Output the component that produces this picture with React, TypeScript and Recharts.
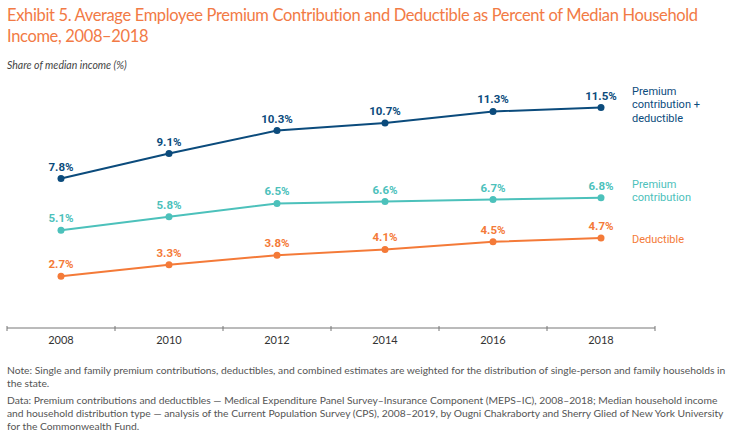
import { LineChart, Line, XAxis, YAxis, LabelList } from "recharts";

const years = ["2008", "2010", "2012", "2014", "2016", "2018"];
const combined = [7.8, 9.1, 10.3, 10.7, 11.3, 11.5];
const premium = [5.1, 5.8, 6.5, 6.6, 6.7, 6.8];
const deductible = [2.7, 3.3, 3.8, 4.1, 4.5, 4.7];

const NAVY = "#0b4b7c";
const TEAL = "#4cc1bb";
const ORANGE = "#f47a38";
const TITLE = "#f27a45";

const data = years.map((year, i) => ({
  year,
  combined: combined[i],
  premium: premium[i],
  deductible: deductible[i],
}));

const HALF_BAND = 54;
const LABEL_FONT = "Roboto, 'Noto Sans', sans-serif";

// draws tick marks on the band edges rather than under the points
// eslint-disable-next-line @typescript-eslint/no-explicit-any
const YearTick = ({ x, y, payload, index }: any) => (
  <g>
    <line x1={x - HALF_BAND} x2={x - HALF_BAND} y1={y - 2} y2={y + 3} stroke="#777" />
    {index === years.length - 1 && (
      <line x1={x + HALF_BAND} x2={x + HALF_BAND} y1={y - 2} y2={y + 3} stroke="#777" />
    )}
    <text x={x} y={y + 16} textAnchor="middle" fill="#333" fontSize={11} fontFamily="Lato, sans-serif">
      {payload.value}
    </text>
  </g>
);

const makeLabel =
  (color: string, name: string[], nameDy: number) =>
  // eslint-disable-next-line @typescript-eslint/no-explicit-any
  ({ x, y, value, index }: any) => (
    <g>
      <text x={x} y={y - 8} textAnchor="middle" fill={color} fontSize={11.5} fontWeight={700} fontFamily={LABEL_FONT}>
        {value.toFixed(1)}%
      </text>
      {index === years.length - 1 && (
        <text x={x + 31} y={y + nameDy} fill={color} fontSize={11} fontFamily={LABEL_FONT}>
          {name.map((line, i) => (
            <tspan key={i} x={x + 31} dy={i === 0 ? 0 : 13.5}>
              {line}
            </tspan>
          ))}
        </text>
      )}
    </g>
  );

const series = [
  { key: "combined", color: NAVY, name: ["Premium", "contribution +", "deductible"], nameDy: -13 },
  { key: "premium", color: TEAL, name: ["Premium", "contribution"], nameDy: -10 },
  { key: "deductible", color: ORANGE, name: ["Deductible"], nameDy: 5 },
];

export default function App() {
  return (
    <div style={{ position: "absolute", left: 0, top: 0, width: 735, height: 439, background: "#fff", overflow: "hidden" }}>
      <div
        style={{
          position: "absolute",
          left: 7,
          top: 5,
          color: TITLE,
          fontFamily: "Lato, sans-serif",
          fontSize: 16.5,
          letterSpacing: -0.35,
          lineHeight: "21px",
          whiteSpace: "nowrap",
        }}
      >
        Exhibit 5. Average Employee Premium Contribution and Deductible as Percent of Median Household
        <br />
        Income, 2008–2018
      </div>
      <div
        style={{
          position: "absolute",
          left: 7,
          top: 59,
          color: "#444",
          fontFamily: "Lato, sans-serif",
          fontSize: 10.5,
          fontStyle: "italic",
        }}
      >
        Share of median income (%)
      </div>
      <div style={{ position: "absolute", left: 0, top: 0 }}>
        <LineChart width={735} height={360} data={data} margin={{ top: 98, right: 80, bottom: 8, left: 7 }}>
          <XAxis
            dataKey="year"
            height={24}
            padding={{ left: HALF_BAND, right: HALF_BAND }}
            axisLine={{ stroke: "#777" }}
            tickLine={false}
            tickSize={0}
            tickMargin={0}
            tick={<YearTick />}
            interval={0}
          />
          <YAxis hide domain={[0, 12]} />
          {series.map((s) => (
            <Line
              key={s.key}
              dataKey={s.key}
              stroke={s.color}
              strokeWidth={2}
              dot={{ r: 3.5, fill: s.color, stroke: s.color, strokeWidth: 0 }}
              activeDot={false}
              isAnimationActive={false}
            >
              <LabelList dataKey={s.key} content={makeLabel(s.color, s.name, s.nameDy)} />
            </Line>
          ))}
        </LineChart>
      </div>
      <div
        style={{
          position: "absolute",
          left: 7,
          top: 364,
          width: 725,
          color: "#555",
          fontFamily: "Lato, sans-serif",
          fontSize: 10.3,
          lineHeight: "13px",
          whiteSpace: "nowrap",
        }}
      >
        <div>
          Note: Single and family premium contributions, deductibles, and combined estimates are weighted for the
          distribution of single-person and family households in
          <br />
          the state.
        </div>
        <div style={{ marginTop: 4 }}>
          Data: Premium contributions and deductibles — Medical Expenditure Panel Survey–Insurance Component (MEPS–IC),
          2008–2018; Median household income
          <br />
          and household distribution type — analysis of the Current Population Survey (CPS), 2008–2019, by Ougni
          Chakraborty and Sherry Glied of New York University
          <br />
          for the Commonwealth Fund.
        </div>
      </div>
    </div>
  );
}
